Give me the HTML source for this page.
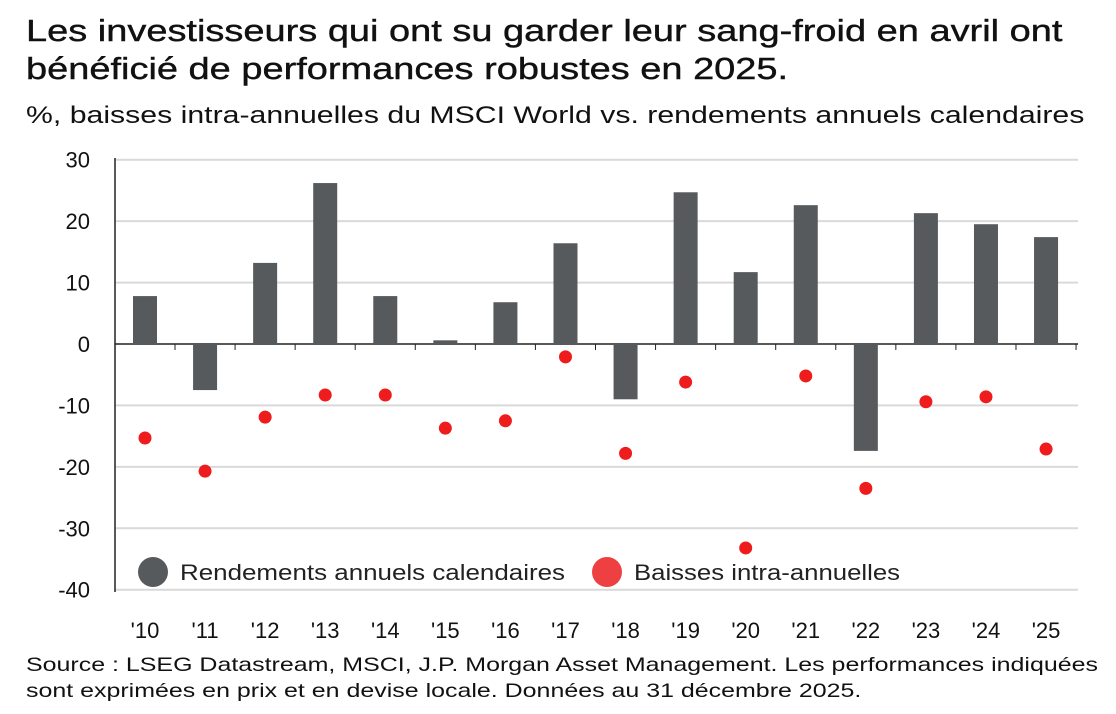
<!DOCTYPE html>
<html><head><meta charset="utf-8"><style>
body{margin:0;background:#fff;width:1116px;height:714px;overflow:hidden;font-family:"Liberation Sans",sans-serif;color:#111}
.t{position:absolute;left:26px;top:12px;font-size:31px;line-height:38px;transform:scaleX(1.225);transform-origin:0 0;white-space:nowrap;-webkit-text-stroke:0.4px #111}
.s{position:absolute;left:26px;top:102px;font-size:24px;transform:scaleX(1.26);transform-origin:0 0;white-space:nowrap}
.src{position:absolute;left:26px;top:652px;font-size:19.5px;line-height:26px;transform:scaleX(1.28);transform-origin:0 0;white-space:nowrap}
svg{position:absolute;left:0;top:0}
</style></head><body>
<div class="t">Les investisseurs qui ont su garder leur sang-froid en avril ont<br>bénéficié de performances robustes en 2025.</div>
<div class="s">%, baisses intra-annuelles du MSCI World vs. rendements annuels calendaires</div>
<svg id="c" width="1116" height="714"></svg>
<div class="src">Source : LSEG Datastream, MSCI, J.P. Morgan Asset Management. Les performances indiquées<br>sont exprimées en prix et en devise locale. Données au 31 décembre 2025.</div>
<script>
const categories=["'10","'11","'12","'13","'14","'15","'16","'17","'18","'19","'20","'21","'22","'23","'24","'25"];
const returns=[7.8,-7.5,13.2,26.2,7.8,0.6,6.8,16.4,-9.0,24.7,11.7,22.6,-17.4,21.3,19.5,17.4];
const drawdowns=[-15.3,-20.7,-11.9,-8.3,-8.3,-13.7,-12.5,-2.1,-17.8,-6.2,-33.2,-5.2,-23.5,-9.4,-8.6,-17.1];
const yTicks=[30,20,10,0,-10,-20,-30,-40];
const NS="http://www.w3.org/2000/svg",svg=document.getElementById('c');
const y=v=>344-v*6.143, x=i=>145+i*60.07;
function mk(t,a){const e=document.createElementNS(NS,t);for(const k in a)e.setAttribute(k,a[k]);svg.appendChild(e);return e;}
yTicks.forEach(v=>{
 const g=mk('line',{x1:115,x2:1078,y1:y(v),y2:y(v),stroke:v==0?'#222':'#d9d9d9','stroke-width':v==0?1.5:2});
 
 
 const t=mk('text',{x:90,y:y(v)+8,'text-anchor':'end','font-size':22,fill:'#111'});t.textContent=v;
 
 
});
const ax=mk('line',{x1:115,x2:115,y1:158,y2:592,stroke:'#222','stroke-width':1.5});


categories.forEach((c,i)=>{
 const tk=mk('line',{x1:x(i)+30,x2:x(i)+30,y1:344,y2:350,stroke:'#222'});
 
 
 const v=returns[i];
 const b=mk('rect',{x:x(i)-12,y:Math.min(y(v),y(0)),width:24,height:Math.abs(y(v)-y(0)),fill:'#575a5c'});
 
 
 const d=mk('circle',{cx:x(i),cy:y(drawdowns[i]),r:6.5,fill:'#ee1c1c'});
 
 
 const t=mk('text',{x:x(i),y:638,'text-anchor':'middle','font-size':22,fill:'#111'});t.textContent=c;
 
 
});
const l1=mk('circle',{cx:153,cy:572,r:15,fill:'#575a5c'});


const t1=mk('text',{x:180,y:580,'font-size':22,fill:'#222',textLength:385,lengthAdjust:'spacingAndGlyphs'});t1.textContent='Rendements annuels calendaires';


const l2=mk('circle',{cx:607,cy:572,r:15,fill:'#ee4040'});


const t2=mk('text',{x:634,y:580,'font-size':22,fill:'#222',textLength:266,lengthAdjust:'spacingAndGlyphs'});t2.textContent='Baisses intra-annuelles';


</script>
</body></html>
